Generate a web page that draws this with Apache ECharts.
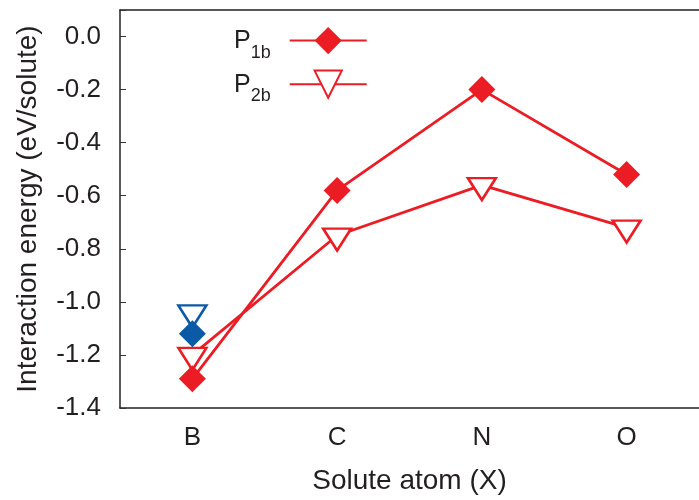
<!DOCTYPE html>
<html>
<head>
<meta charset="utf-8">
<script src="https://cdn.jsdelivr.net/npm/echarts@6/dist/echarts.min.js"></script>
<style>html,body{margin:0;padding:0;background:#fff}#c{width:699px;height:500px}</style>
</head>
<body>
<div id="c"></div>
<script>
const categories = ['B', 'C', 'N', 'O'];
const p1b = [-1.29, -0.58, -0.20, -0.52];
const p2b = [-1.20, -0.75, -0.56, -0.72];
const blueP1b = [-1.12, null, null, null];
const blueP2b = [-1.04, null, null, null];
const yTicks = [-1.4, -1.2, -1.0, -0.8, -0.6, -0.4, -0.2, 0.0];

const RED = '#ec1c24';
const BLUE = '#0b5aa6';
const FONT = 'Liberation Sans';
const TXT = '#231f20';

const chart = echarts.init(document.getElementById('c'), null, {renderer: 'canvas'});
chart.setOption({
  backgroundColor: '#fff',
  animation: false,
  grid: {left: 120, top: 10, right: -7, bottom: 91, containLabel: false},
  legend: {
    orient: 'vertical',
    left: 229,
    top: 22,
    align: 'right',
    itemWidth: 77,
    itemHeight: 34,
    itemGap: 8,
    data: ['P1b', 'P2b'],
    formatter: function (n) { return '{p|P}{s|' + n.slice(1) + '}'; },
    textStyle: {
      rich: {
        p: {fontFamily: FONT, fontSize: 25, color: TXT, verticalAlign: 'bottom', lineHeight: 26},
        s: {fontFamily: FONT, fontSize: 18, color: TXT, verticalAlign: 'bottom', lineHeight: 14, padding: [0, 14, -8, 0]}
      }
    }
  },
  xAxis: [{
    type: 'category',
    data: categories,
    boundaryGap: true,
    name: 'Solute atom (X)',
    nameLocation: 'middle',
    nameGap: 59,
    nameTextStyle: {fontFamily: FONT, fontSize: 28, color: TXT},
    axisLine: {onZero: false, lineStyle: {color: '#222', width: 1.5}},
    axisTick: {inside: true, alignWithLabel: true, length: 6, lineStyle: {color: '#333', width: 1}},
    axisLabel: {fontFamily: FONT, fontSize: 26, color: TXT, margin: 17},
    splitLine: {show: false}
  }, {
    type: 'category',
    data: categories,
    position: 'top',
    boundaryGap: true,
    axisLine: {onZero: false, lineStyle: {color: '#222', width: 1.5}},
    axisTick: {inside: true, alignWithLabel: true, length: 6, lineStyle: {color: '#333', width: 1}},
    axisLabel: {show: false},
    splitLine: {show: false}
  }],
  yAxis: {
    type: 'value',
    min: -1.4,
    max: 0.1,
    interval: 0.2,
    name: 'Interaction energy (eV/solute)',
    nameLocation: 'middle',
    nameGap: 78,
    nameTextStyle: {fontFamily: FONT, fontSize: 28, color: TXT},
    axisLine: {show: true, lineStyle: {color: '#222', width: 1.5}},
    axisTick: {show: true, inside: true, length: 6, lineStyle: {color: '#333', width: 1}},
    axisLabel: {
      fontFamily: FONT, fontSize: 26, color: TXT, margin: 19,
      formatter: function (v) {
        for (const t of yTicks) { if (Math.abs(v - t) < 1e-6) return t.toFixed(1); }
        return '';
      }
    },
    splitLine: {show: false}
  },
  series: [{
    name: 'P1b',
    type: 'line',
    data: p1b,
    symbol: 'diamond',
    symbolSize: [27, 27],
    lineStyle: {color: RED, width: 2.8},
    itemStyle: {color: RED},
    z: 3
  }, {
    name: 'P2b',
    type: 'line',
    data: p2b,
    symbol: 'triangle',
    symbolRotate: 180,
    symbolSize: [28, 22],
    symbolOffset: [0, 4],
    lineStyle: {color: RED, width: 2.8},
    itemStyle: {color: '#fff', borderColor: RED, borderWidth: 2.5},
    z: 2
  }, {
    name: 'bP1b',
    type: 'line',
    data: blueP1b,
    symbol: 'diamond',
    symbolSize: [27, 27],
    lineStyle: {width: 0},
    itemStyle: {color: BLUE},
    z: 3
  }, {
    name: 'bP2b',
    type: 'line',
    data: blueP2b,
    symbol: 'triangle',
    symbolRotate: 180,
    symbolSize: [28, 22],
    symbolOffset: [0, 4],
    lineStyle: {width: 0},
    itemStyle: {color: '#fff', borderColor: BLUE, borderWidth: 2.5},
    z: 2
  }]
});
</script>
</body>
</html>
